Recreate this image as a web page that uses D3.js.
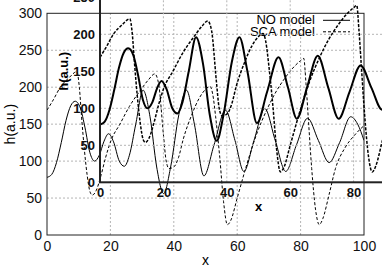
<!DOCTYPE html>
<html><head><meta charset="utf-8">
<script src="https://cdn.jsdelivr.net/npm/d3@7"></script>
<style>html,body{margin:0;padding:0;background:#fff}svg{display:block}</style>
</head><body>
<script>
// ---- data ----
const xTicks = [0, 20, 40, 60, 80, 100];
const yTicks = [0, 50, 100, 150, 200, 250, 300];
const seriesNames = ["NO model", "SCA model"];
const noX = [0,1.5,3,4.5,6,7.5,8.9,10.5,12,13.5,15,16.5,18,19.4,21,22.8,24.4,26,28,30.3,32.5,34.6,36.8,39,41.6,44,46.5,49.5,52.7,56.3,59.3,62.1,65.3,68.7,72,75.3,78.7,82.2,85.6,89,92.3,95.8,98,100];
const noY = [78,82,98,125,155,175,181,172,145,112,100,108,127,137,126,100,93,108,150,196,160,92,56,92,163,196,150,80,122,169,128,86,128,171,128,86,122,158,128,98,125,160,150,128];
const scaX = [0,2,4.2,7,9.4,10.2,10.9,11.8,12.7,13.6,14.3,15.5,17,18.5,20.2,23,26,29.5,32,34,35.2,36.7,37.6,38.5,40,41.5,43,45.6,48,50,51.4,52.3,53.2,54.5,55.7,56.9,58,60,63,66,69.3,72,75,78,80,81,81.7,82.4,83.5,84.7,85.9,87,89,91,94,97,100];
const scaY = [169,183,200,213,221,200,160,115,80,58,54,60,80,105,128,150,174,196,210,218,205,137,100,90,92,105,130,162,185,197,201,190,160,105,45,14,20,50,95,135,169,192,212,228,236,239,205,160,90,35,14,22,55,90,118,135,148];

const W = 382, H = 267;
const svg = d3.select("body").append("svg").attr("width", W).attr("height", H);
const FONT = "Liberation Sans, Arial, Helvetica, sans-serif";

const noData = noX.map((x, i) => ({x, y: noY[i]}));
const scaData = scaX.map((x, i) => ({x, y: scaY[i]}));

function panel(cfg) {
  const g = svg.append("g");
  const x = d3.scaleLinear().domain([0, 100]).range([cfg.x0, cfg.x1]);
  const y = d3.scaleLinear().domain([0, 300]).range([cfg.y0, cfg.y1]);
  const clipId = "clip" + cfg.id;
  svg.append("clipPath").attr("id", clipId).append("rect")
    .attr("x", cfg.x0).attr("y", cfg.y1).attr("width", cfg.x1 - cfg.x0).attr("height", cfg.y0 - cfg.y1);

  // grid
  const grid = g.append("g").attr("stroke", "#b4b4b4").attr("stroke-width", 1).attr("stroke-dasharray", "2,2");
  grid.selectAll("line.v").data(xTicks.slice(1, -1)).join("line")
    .attr("x1", d => x(d)).attr("x2", d => x(d)).attr("y1", cfg.y0).attr("y2", cfg.y1);
  grid.selectAll("line.h").data(yTicks.slice(1, -1)).join("line")
    .attr("x1", cfg.x0).attr("x2", cfg.x1).attr("y1", d => y(d)).attr("y2", d => y(d));

  // axes (labels only, gnuplot-like)
  const ax = d3.axisBottom(x).tickValues(xTicks.filter(t => x(t) < W)).tickSize(0).tickPadding(cfg.xPad);
  const axg = g.append("g").attr("transform", `translate(0,${cfg.y0})`).call(ax);
  axg.select(".domain").remove();
  axg.selectAll("text").attr("font-family", FONT).attr("font-size", cfg.fs).attr("font-weight", cfg.fw).attr("fill", "#111");
  const ay = d3.axisLeft(y).tickValues(yTicks.filter(t => y(t) > -8)).tickSize(0).tickPadding(cfg.yPad);
  const ayg = g.append("g").attr("transform", `translate(${cfg.x0},0)`).call(ay);
  ayg.select(".domain").remove();
  ayg.selectAll("text").attr("font-family", FONT).attr("font-size", cfg.fs).attr("font-weight", cfg.fw).attr("fill", "#111");

  // curves
  const line = d3.line().x(d => x(d.x)).y(d => y(d.y)).curve(d3.curveMonotoneX);
  const cg = g.append("g").attr("clip-path", `url(#${clipId})`).attr("fill", "none").attr("stroke", "#000");
  cg.append("path").datum(noData).attr("d", line).attr("stroke-width", cfg.lw);
  cg.append("path").datum(scaData).attr("d", line).attr("stroke-width", cfg.dlw).attr("stroke-dasharray", cfg.dash);

  // border
  g.append("rect").attr("x", cfg.x0).attr("y", cfg.y1).attr("width", cfg.x1 - cfg.x0).attr("height", cfg.y0 - cfg.y1)
    .attr("fill", "none").attr("stroke", "#222").attr("stroke-width", cfg.bw);

  // axis titles
  g.append("text").attr("x", (cfg.x0 + cfg.x1) / 2).attr("y", cfg.y0 + cfg.xt)
    .attr("text-anchor", "middle").attr("font-family", FONT).attr("font-size", cfg.fs).attr("font-weight", cfg.fw).text("x");
  g.append("text").attr("transform", `translate(${cfg.x0 + cfg.yt},${(cfg.y0 + cfg.y1) / 2}) rotate(-90)`)
    .attr("text-anchor", "middle").attr("font-family", FONT).attr("font-size", cfg.fs).attr("font-weight", cfg.fw).text("h(a.u.)");

  // key
  if (cfg.key) {
    const kx = cfg.x1 - 49, ky = cfg.y1 + 11;
    seriesNames.forEach((name, i) => {
      g.append("text").attr("x", kx).attr("y", ky + i * 11.5).attr("text-anchor", "end")
        .attr("font-family", FONT).attr("font-size", 13).text(name);
      g.append("line").attr("x1", kx + 8).attr("x2", kx + 35).attr("y1", ky - 4 + i * 11.5).attr("y2", ky - 4 + i * 11.5)
        .attr("stroke", "#000").attr("stroke-width", 1).attr("stroke-dasharray", i ? "3,2" : null);
    });
  }
}

// main plot
panel({id: "m", x0: 47, x1: 364, y0: 235, y1: 13.3, fs: 14, fw: "normal", lw: 1, dlw: 1, dash: "3,2", bw: 1,
       xPad: 6, yPad: 5, xt: 30, yt: -32, key: true});
// offset copy (inset)
panel({id: "i", x0: 100, x1: 417, y0: 182.3, y1: -39.7, fs: 13, fw: "bold", lw: 2, dlw: 1.5, dash: "3,1.5", bw: 2,
       xPad: 5, yPad: 5, xt: 29, yt: -32, key: false});
</script>
</body></html>
